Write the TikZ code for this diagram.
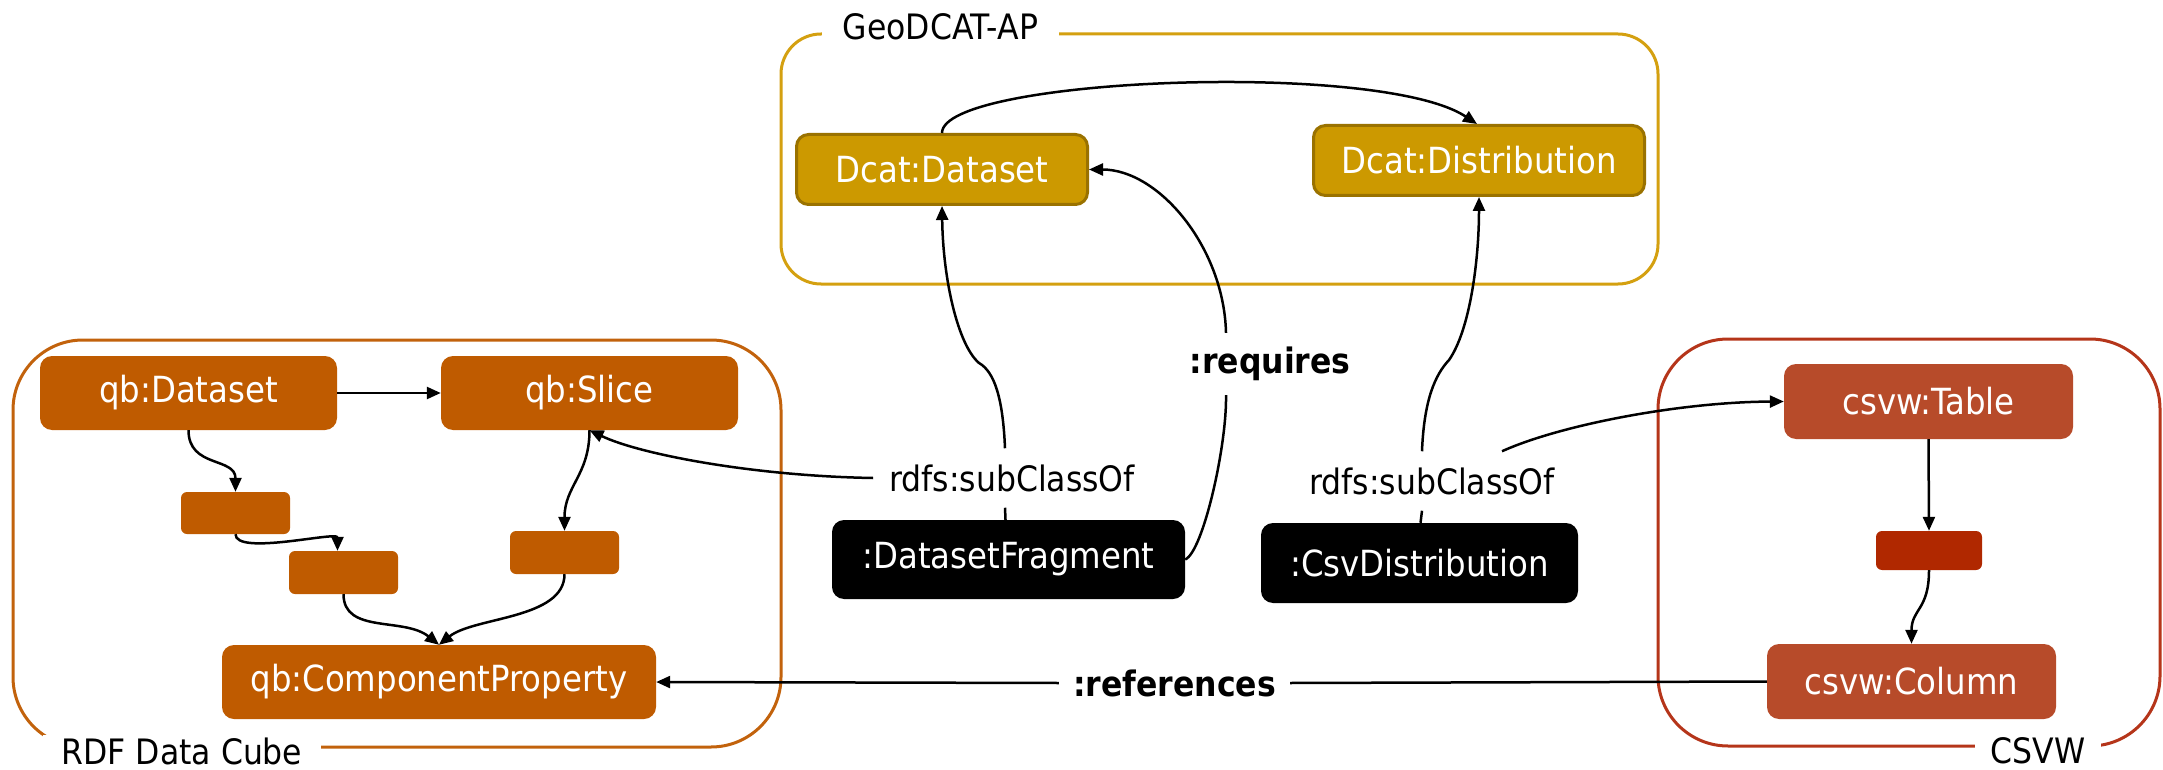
\documentclass[tikz,border=0pt]{standalone}
\usepackage{fontspec}
\setmainfont{DejaVu Sans Condensed}
\usetikzlibrary{arrows.meta}
\definecolor{qbc}{HTML}{BF5B00}
\definecolor{qbf}{HTML}{C2620C}
\definecolor{dcatc}{HTML}{CC9900}
\definecolor{dcatb}{HTML}{9A7200}
\definecolor{dcatf}{HTML}{D4A010}
\definecolor{csvc}{HTML}{B74B2A}
\definecolor{csvr}{HTML}{B02800}
\definecolor{csvf}{HTML}{B5351A}
\begin{document}
\begin{tikzpicture}[x=1pt,y=-1pt,
  txt/.style={font=\fontsize{35}{42}\selectfont},
  ntxt/.style={font=\fontsize{36}{43}\selectfont},
  nbox/.style={ntxt, rectangle, rounded corners=12pt, text=white, inner sep=0pt},
  qb/.style={nbox, fill=qbc},
  qbsmall/.style={nbox, fill=qbc, rounded corners=6pt},
  dcat/.style={nbox, fill=dcatc, draw=dcatb, line width=3pt},
  csv/.style={nbox, fill=csvc},
  csvsmall/.style={nbox, fill=csvr, rounded corners=6pt},
  blk/.style={nbox, fill=black},
  conn/.style={line width=2.5pt, -{Triangle[length=14pt,width=12pt]}},
  plainconn/.style={line width=2.5pt},
  elabel/.style={txt, inner sep=16pt},
  blabel/.style={txt, font=\fontsize{35}{42}\selectfont\bfseries, inner sep=0pt},
  framebox/.style={line width=3pt},
  flabel/.style={txt, fill=white, inner sep=0pt}
]
\useasboundingbox (0,0) rectangle (2163,770);

% frames
\draw[framebox, draw=qbf, rounded corners=70pt] (13,340) rectangle (781,747);
\draw[framebox, draw=dcatf, rounded corners=40pt] (781,34) rectangle (1658,284);
\draw[framebox, draw=csvf, rounded corners=70pt] (1658,339) rectangle (2160,746);
\node[flabel, minimum width=278pt, minimum height=34pt] (rdfl) at (182,751.5) {RDF Data Cube};
\node[flabel, minimum width=237pt, minimum height=34pt] (geol) at (940.5,27) {GeoDCAT-AP};
\node[flabel, minimum width=126pt, minimum height=34pt] (csvl) at (2038,751) {CSVW};

% nodes
\node[qb, minimum width=297pt, minimum height=74pt] (qbds) at (188.5,393) {qb:Dataset};
\node[qb, minimum width=297pt, minimum height=74pt] (qbsl) at (589.5,393) {qb:Slice};
\node[qbsmall, minimum width=109pt, minimum height=42pt] (b1) at (235.5,513) {};
\node[qbsmall, minimum width=109pt, minimum height=43pt] (b2) at (343.5,572.5) {};
\node[qbsmall, minimum width=109pt, minimum height=43pt] (b3) at (564.5,552.5) {};
\node[qb, minimum width=434pt, minimum height=74pt] (cp) at (439,682) {qb:ComponentProperty};

\node[dcat, minimum width=291pt, minimum height=70pt] (dds) at (942,169.5) {Dcat:Dataset};
\node[dcat, minimum width=331pt, minimum height=70pt] (ddist) at (1479,160.5) {Dcat:Distribution};

\node[blk, minimum width=353pt, minimum height=79pt] (frag) at (1008.5,559.5) {:DatasetFragment};
\node[blk, minimum width=317pt, minimum height=80pt] (csvd) at (1419.5,563) {:CsvDistribution};

\node[csv, minimum width=289pt, minimum height=75pt] (tab) at (1928.5,401.5) {csvw:Table};
\node[csvsmall, minimum width=106pt, minimum height=39pt] (sm) at (1929,550.5) {};
\node[csv, minimum width=289pt, minimum height=75pt] (col) at (1911.5,681.5) {csvw:Column};

% edge labels
\node[elabel] (l1) at (1012,478) {rdfs:subClassOf};
\node[elabel] (l2) at (1432,481) {rdfs:subClassOf};
\node[blabel, minimum height=62pt, minimum width=160pt] (req) at (1270,364) {:requires};
\node[blabel, minimum height=40pt, minimum width=231pt] (refs) at (1174.5,683) {:references};

% RDF Data Cube edges
\draw[conn] (qbds.east) -- (qbsl.west);
\draw[conn] (qbds.south) .. controls +(0,38) and +(0,-35) .. (b1.north);
\draw[conn] (b1.south) .. controls +(0,22) and +(0,-20) .. ([xshift=-6pt]b2.north);
\draw[conn] (b2.south) .. controls +(0,40) and +(-35,-28) .. (cp.north);
\draw[conn] (b3.south) .. controls +(0,45) and +(35,-28) .. (cp.north);
\draw[conn] (qbsl.south) .. controls +(0,45) and +(0,-45) .. (b3.north);

% subClassOf from DatasetFragment
\draw[plainconn] ([xshift=-3pt]frag.north) -- ([xshift=-7pt]l1.south);
\draw[conn] (l1.west) .. controls +(-120,-2) and +(50,24) .. (qbsl.south);
\draw[conn] ([xshift=-7pt]l1.north) .. controls (1003,400) and (995,372) .. (979,363)
  .. controls (958,345) and (943,280) .. (dds.south);

% requires
\draw[plainconn] (frag.east) .. controls +(18,-8) and +(1,50) .. ([xshift=-44pt]req.south);
\draw[conn] ([xshift=-44pt]req.north) .. controls +(-2,-85) and +(70,0) .. (dds.east);

% GeoDCAT internal
\draw[conn] (dds.north) .. controls +(0,-55) and (1380,60) .. ([xshift=-2pt]ddist.north);

% subClassOf from CsvDistribution
\draw[plainconn] ([xshift=1pt]csvd.north) -- ([xshift=-10pt]l2.south);
\draw[conn] ([xshift=-10pt]l2.north) .. controls (1424,400) and (1435,375) .. (1449,360)
  .. controls (1470,330) and (1479,260) .. (ddist.south);
\draw[conn] ([xshift=70pt]l2.north) .. controls (1560,425) and (1680,402) .. (tab.west);

% CSVW internal
\draw[conn] (tab.south) -- (sm.north);
\draw[conn] (sm.south) .. controls +(0,40) and +(0,-35) .. (col.north);

% references
\draw[plainconn] (col.west) -- (refs.east);
\draw[conn] (refs.west) -- (cp.east);
\end{tikzpicture}
\end{document}
